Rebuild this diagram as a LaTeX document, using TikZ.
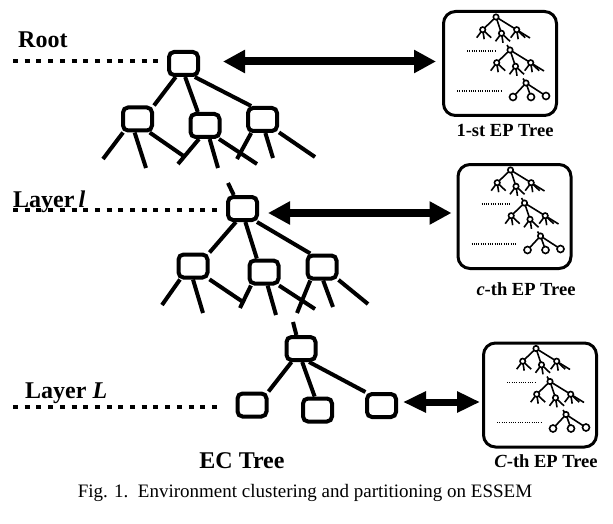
\documentclass[tikz,border=0pt]{standalone}
\usepackage{fontspec}
\setmainfont{Liberation Serif}
\usetikzlibrary{arrows.meta}
\tikzset{
  ecbox/.style={draw, line width=4pt, rounded corners=5pt, fill=white,
    minimum width=29pt, minimum height=23pt, inner sep=0pt},
  edge/.style={line width=4pt},
  epbox/.style={draw, line width=3pt, rounded corners=12pt, fill=white,
    minimum width=113pt, minimum height=104pt, inner sep=0pt, outer sep=0pt},
  dotline/.style={line width=4.5pt, dash pattern=on 5pt off 6.7pt},
  finedots/.style={line width=1.1pt, dash pattern=on 1pt off 1.3pt},
  iconline/.style={line width=1.6pt},
  bigarrow/.style={line width=8pt,
    {Triangle[length=22pt,width=22pt]}-{Triangle[length=22pt,width=22pt]}},
  midarrow/.style={line width=7pt,
    {Triangle[length=23pt,width=20pt]}-{Triangle[length=23pt,width=20pt]}},
  biglabel/.style={font=\fontsize{24}{28}\selectfont\bfseries, inner sep=0pt},
  eplabel/.style={font=\fontsize{18.5}{22}\selectfont\bfseries, inner sep=0pt, anchor=base},
}
\newcommand\epMiniLegs{%
  \draw[iconline] (0,0) -- (-13.3,12.7) (0,0) -- (5.5,16.3) (0,0) -- (34,21);
  \foreach \cx/\cy in {-13.3/12.7, 5.5/16.3, 20.7/12.7} {
    \draw[iconline] (\cx,\cy) -- ++(-6,8) (\cx,\cy) -- ++(1.5,9.5) (\cx,\cy) -- ++(8.5,8);
    \draw[iconline, fill=white] (\cx,\cy) circle[radius=2.7pt];
  }
  \draw[iconline, fill=white] (0,0) circle[radius=2.7pt];
}
\newcommand\epMiniBare{%
  \draw[iconline] (0,0) -- (-3,-4.5);
  \draw[iconline] (0,0) -- (-13,14) (0,0) -- (5,14) (0,0) -- (20,13);
  \foreach \cx/\cy in {-13/14, 5/14, 20/13} {
    \draw[iconline, fill=white] (\cx,\cy) circle[radius=3.5pt];
  }
  \draw[iconline, fill=white] (0,0) circle[radius=2.7pt];
}
\newcommand\epIcon[1]{%
  \begin{scope}[shift={(#1.north west)}, shift={(-1.5,-1.5)}]
    \begin{scope}[shift={(54,7)}]\epMiniLegs\end{scope}
    \begin{scope}[shift={(68,40)}]\draw[iconline] (0,0) -- (-3,-5);\epMiniLegs\end{scope}
    \draw[finedots] (25,41) -- (53,41);
    \draw[finedots] (15,81) -- (60,81);
    \begin{scope}[shift={(84,73)}]\epMiniBare\end{scope}
  \end{scope}%
}
\begin{document}
\begin{tikzpicture}[x=1pt,y=-1pt]
\useasboundingbox (0,0) rectangle (613,524);

% EC tree boxes
\node[ecbox] (r0) at (183.5,63.5) {};
\node[ecbox] (r1) at (137.5,119) {};
\node[ecbox] (r2) at (205,125.5) {};
\node[ecbox] (r3) at (262.5,119.5) {};
\node[ecbox] (l0) at (242.5,208.5) {};
\node[ecbox] (l1) at (193,266) {};
\node[ecbox] (l2) at (264,272) {};
\node[ecbox] (l3) at (322,267) {};
\node[ecbox] (L0) at (301,348.5) {};
\node[ecbox] (L1) at (252,405) {};
\node[ecbox] (L2) at (317.5,410) {};
\node[ecbox] (L3) at (381.5,405.5) {};

% EP boxes
\node[epbox] (ep1) at (500,63.5) {};
\node[epbox] (ep2) at (514.5,216.5) {};
\node[epbox] (ep3) at (540,395) {};
\epIcon{ep1}
\epIcon{ep2}
\epIcon{ep3}

% tree edges
\draw[edge] (r0.-120) -- (r1.north east);
\draw[edge] (r0.-83) -- (r2.118);
\draw[edge] (r0.-50) -- (r3.130);
\draw[edge] (l0.-116) -- (l1.north east);
\draw[edge] (l0.-78) -- (l2.118);
\draw[edge] (l0.-43) -- (l3.131);
\draw[edge] (L0.-125) -- (L1.north east);
\draw[edge] (L0.-85) -- (L2.102);
\draw[edge] (L0.-59) -- (L3.140);
\coordinate (lstub) at (228,183);
\draw[edge] (lstub) -- (l0.123);
\coordinate (Lstub) at (293,322);
\draw[edge] (Lstub) -- (L0.109);

\foreach \nd/\an/\ex/\ey [count=\k] in {
 r1/-137/103/159, r1/-102/146/168, r1/-48/185/157,
 r2/-114/178/164, r2/-71/218/168, r2/-44/257/164,
 r3/-130/237/159, r3/-78/273/158, r3/-38/315/157,
 l1/-134/162/305, l1/-90/203/313, l1/-39/243/302,
 l2/-134/240/308, l2/-75/276/315, l2/-42/315/309,
 l3/-131/297/313, l3/-85/333/307, l3/-38/368/304}
 {\coordinate (leaf\k) at (\ex,\ey); \draw[edge] (\nd.\an) -- (leaf\k);}

% dotted layer lines
\coordinate (d0a) at (13,61);  \coordinate (d0b) at (158,61);
\coordinate (d1a) at (13,210); \coordinate (d1b) at (217,210);
\coordinate (d2a) at (13,407); \coordinate (d2b) at (217,407);
\draw[dotline] (d0a) -- (d0b);
\draw[dotline] (d1a) -- (d1b);
\draw[dotline] (d2a) -- (d2b);

% double arrows
\draw[bigarrow, shorten <=23pt, shorten >=7.5pt] ([yshift=2pt]r0.east) -- ([yshift=2pt]r0.east -| ep1.west);
\draw[bigarrow, shorten <=9pt, shorten >=6.5pt] ([yshift=-4.5pt]l0.east) -- ([yshift=-4.5pt]l0.east -| ep2.west);
\draw[midarrow, shorten <=5pt, shorten >=3.5pt] ([yshift=3.5pt]L3.east) -- ([yshift=3.5pt]L3.east -| ep3.west);

% labels
\node[biglabel, anchor=base west] (troot) at (18,48) {Root};
\node[biglabel, anchor=base west] (tlayl) at (13,207) {Layer\hspace{4pt}\textit{l}};
\node[biglabel, anchor=base west] (tlayL) at (25,398) {Layer \textit{L}};
\node[biglabel, anchor=base] (tec) at (242,468) {EC Tree};
\node[eplabel] (lab1) at (505,137) {1-st EP Tree};
\node[eplabel] (lab2) at (526,295) {\textit{c}-th EP Tree};
\node[eplabel] (lab3) at (546,467) {\textit{C}-th EP Tree};
\node[font=\fontsize{19}{22}\selectfont, anchor=base, inner sep=0pt] (cap) at (305,497)
  {Fig. 1.\ \ Environment clustering and partitioning on ESSEM};
\end{tikzpicture}
\end{document}
